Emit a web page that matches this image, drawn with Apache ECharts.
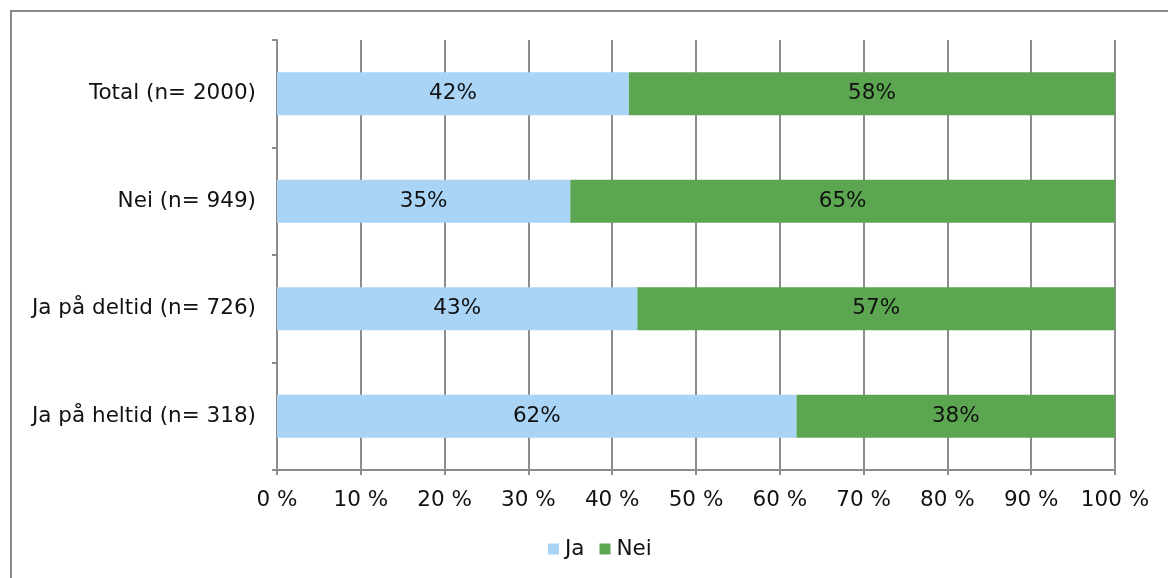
<!DOCTYPE html>
<html>
<head>
<meta charset="utf-8">
<script src="https://cdn.jsdelivr.net/npm/echarts@6/dist/echarts.min.js"></script>
<style>
  html, body { margin: 0; padding: 0; background: #fff; }
  #frame { position: absolute; left: 10px; top: 10px; width: 1200px; height: 600px;
           border-left: 2px solid #8a8a8a; border-top: 2px solid #8a8a8a; box-sizing: border-box; }
  #chart { position: absolute; left: 0; top: 0; width: 1168px; height: 578px; }
</style>
</head>
<body>
<div id="frame"></div>
<div id="chart"></div>
<script>
// Survey groups (top to bottom) and share answering Ja / Nei, in percent
const categories = ['Total (n= 2000)', 'Nei (n= 949)', 'Ja på deltid (n= 726)', 'Ja på heltid (n= 318)'];
const jaValues = [42, 35, 43, 62];
const neiValues = [58, 65, 57, 38];
const seriesNames = ['Ja', 'Nei'];

const FONT = 'DejaVu Sans';
const FS = 21.5;
const GRAY = '#8c8c8c';

const chart = echarts.init(document.getElementById('chart'), null, { renderer: 'canvas' });

const labelStyle = {
  show: true,
  position: 'inside',
  formatter: p => p.value + '%',
  color: '#111',
  fontFamily: FONT,
  fontSize: FS
};

chart.setOption({
  animation: false,
  textStyle: { fontFamily: FONT },
  grid: { left: 277, right: 53, top: 40, bottom: 108, containLabel: false },
  legend: {
    data: seriesNames,
    top: 533,
    left: 543,
    itemWidth: 11,
    itemHeight: 11,
    itemGap: 15,
    icon: 'rect',
    textStyle: { fontFamily: FONT, fontSize: FS, color: '#111', padding: [0, 0, 0, 1] }
  },
  xAxis: {
    type: 'value',
    min: 0,
    max: 100,
    interval: 10,
    axisLine: { show: true, lineStyle: { color: GRAY, width: 2 } },
    axisTick: { show: true, length: 5, lineStyle: { color: GRAY, width: 2 } },
    splitLine: { show: true, lineStyle: { color: GRAY, width: 2 } },
    axisLabel: { formatter: '{value} %', color: '#111', fontFamily: FONT, fontSize: FS, margin: 19 }
  },
  yAxis: {
    type: 'category',
    inverse: true,
    data: categories,
    axisLine: { show: true, lineStyle: { color: GRAY, width: 2 } },
    axisTick: { show: true, length: 5, lineStyle: { color: GRAY, width: 2 } },
    axisLabel: { color: '#111', fontFamily: FONT, fontSize: FS, margin: 21 }
  },
  series: [
    {
      name: 'Ja',
      type: 'bar',
      stack: 'total',
      barWidth: '40%',
      data: jaValues,
      itemStyle: { color: '#a9d4f5' },
      label: labelStyle
    },
    {
      name: 'Nei',
      type: 'bar',
      stack: 'total',
      barWidth: '40%',
      data: neiValues,
      itemStyle: { color: '#5ca652' },
      label: labelStyle
    }
  ]
});
</script>
</body>
</html>
